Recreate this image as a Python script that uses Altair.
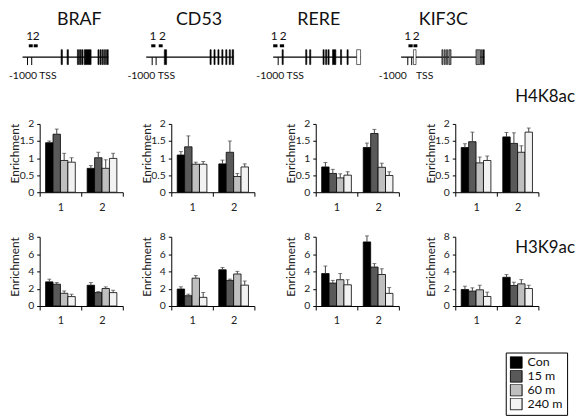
import altair as alt
import pandas as pd

FONT = "Lato"

# ---------------- data ----------------
series = ["Con", "15 m", "60 m", "240 m"]
series_colors = ["#000000", "#595959", "#bfbfbf", "#f2f2f2"]
groups = ["1", "2"]
genes = ["BRAF", "CD53", "RERE", "KIF3C"]

# values: group 1 (Con, 15 m, 60 m, 240 m) then group 2 (Con, 15 m, 60 m, 240 m)
h4_braf = [1.45, 1.70, 0.93, 0.88, 0.70, 1.01, 0.70, 0.99]
h4_braf_up = [1.50, 1.85, 1.14, 1.01, 0.78, 1.17, 0.95, 1.14]
h4_cd53 = [1.09, 1.33, 0.82, 0.82, 0.83, 1.17, 0.46, 0.74]
h4_cd53_up = [1.19, 1.65, 0.88, 0.90, 0.94, 1.50, 0.55, 0.83]
h4_rere = [0.74, 0.55, 0.42, 0.50, 1.31, 1.72, 0.73, 0.49]
h4_rere_up = [0.87, 0.67, 0.54, 0.60, 1.44, 1.84, 0.85, 0.60]
h4_kif3c = [1.31, 1.48, 0.86, 0.93, 1.62, 1.43, 1.17, 1.76]
h4_kif3c_up = [1.42, 1.76, 1.03, 1.06, 1.75, 1.74, 1.36, 1.88]

h3_braf = [2.79, 2.52, 1.47, 1.09, 2.40, 1.55, 2.02, 1.55]
h3_braf_up = [3.10, 2.71, 1.74, 1.36, 2.71, 1.67, 2.21, 1.82]
h3_cd53 = [1.96, 1.19, 3.22, 1.00, 4.19, 2.96, 3.70, 2.41]
h3_cd53_up = [2.22, 1.37, 3.52, 1.56, 4.44, 3.11, 4.00, 2.89]
h3_rere = [3.75, 2.65, 3.04, 2.45, 7.40, 4.50, 3.64, 1.46]
h3_rere_up = [4.62, 2.96, 3.75, 3.04, 8.10, 4.90, 4.30, 2.13]
h3_kif3c = [1.91, 1.72, 1.87, 1.10, 3.32, 2.37, 2.56, 2.02]
h3_kif3c_up = [2.29, 2.10, 2.40, 1.60, 3.63, 2.75, 3.05, 2.40]

h4_ticks = [0, 0.5, 1, 1.5, 2]
h3_ticks = [0, 2, 4, 6, 8]

# gene maps: positions in % of the drawn gene line
braf_exon_start = [45, 52, 64, 66.5, 69, 72, 88, 90.5, 93, 95.5, 98]
braf_exon_end = [46.5, 53.5, 65.5, 68, 70.5, 80, 89.3, 91.8, 94.3, 96.8, 100]
braf_exon_fill = ["black"] * 11
braf_marks = [5.8, 10.7]
braf_probe_start = [7.3, 13.0]
braf_probe_end = [11.9, 17.7]
braf_probe_label_x = [8.4, 15.9]
braf_text = ["-1000 TSS"]
braf_text_x = [-15.8]
braf_title_x = 66.2

cd53_exon_start = [20.7, 73, 77.5, 82, 86.5, 91, 95, 98.3]
cd53_exon_end = [23.3, 74.3, 78.8, 83.3, 87.8, 92.3, 96.3, 100]
cd53_exon_fill = ["black"] * 8
cd53_marks = [6.8, 11.3]
cd53_probe_start = [5.7, 14.3]
cd53_probe_end = [10.5, 18.8]
cd53_probe_label_x = [7.7, 18.5]
cd53_text = ["-1000 TSS"]
cd53_text_x = [-21.5]
cd53_title_x = 60.4

rere_exon_start = [10.2, 37.2, 41.7, 57, 60, 62.7, 67.9, 77, 84.5, 95.5]
rere_exon_end = [11.5, 38.5, 43, 58.3, 61.3, 64, 71.7, 78.3, 85.8, 100]
rere_exon_fill = ["black"] * 9 + ["white"]
rere_marks = [5.7]
rere_probe_start = [0.0, 7.6]
rere_probe_end = [4.9, 12.5]
rere_probe_label_x = [1.1, 11.3]
rere_text = ["-1000 TSS"]
rere_text_x = [-19.3]
rere_title_x = 52.1

kif3c_exon_start = [14.8, 49, 51.8, 54.6, 57.4, 90, 96.5, 98.6]
kif3c_exon_end = [17.9, 50.3, 53.1, 55.9, 60, 95.5, 97.7, 100]
kif3c_exon_fill = ["white", "#808080", "#808080", "#808080", "#808080", "#808080", "#808080", "black"]
kif3c_marks = [8.0, 12.7]
kif3c_probe_start = [8.8, 14.8]
kif3c_probe_end = [13.9, 19.5]
kif3c_probe_label_x = [8.0, 18.1]
kif3c_text = ["-1000", "TSS"]
kif3c_text_x = [-26.9, 17.9]
kif3c_title_x = 50.8

# ---------------- layout (pixels) ----------------
COL_W = [123, 136, 131, 84]
PANEL_W = 84
GENE_H = 45
ROW1_H = 69
ROW2_H = 70
LINE_RANGES = [[-17.3, 69.3], [-25.3, 63.0], [-43.0, 45.3], [-54.7, 29.3]]

# vertical levels used in the gene maps (1 unit = 7.5 px)
LV_EXON = (-1.0, 1.0)
LV_MARK = (0.0, -1.07)
LV_PROBE = (1.33, 1.73)
LV_PLABEL = 2.33
LV_TEXT = -3.0
LV_TITLE = 4.28


def gene_cell(name, width, xrange, ex0, ex1, exfill, marks, p0, p1, plx,
              texts, texts_x, title_x):
    xs = alt.Scale(domain=[0, 100], range=xrange)
    ys = alt.Scale(domain=[-3, 3])

    def X(f):
        return alt.X(f, scale=xs, axis=None)

    def Y(f):
        return alt.Y(f, scale=ys, axis=None)

    line = alt.Chart(pd.DataFrame({"a": [0], "b": [100], "y": [0]})).mark_rule(
        color="black", strokeWidth=1.3
    ).encode(x=X("a:Q"), x2="b:Q", y=Y("y:Q"))

    mk = alt.Chart(pd.DataFrame({"x": marks, "y0": LV_MARK[0], "y1": LV_MARK[1]})).mark_rule(
        color="black", strokeWidth=1
    ).encode(x=X("x:Q"), y=Y("y0:Q"), y2="y1:Q")

    ex = alt.Chart(pd.DataFrame({"a": ex0, "b": ex1, "y0": LV_EXON[0], "y1": LV_EXON[1],
                                 "f": exfill})).mark_rect(
        stroke="black", strokeWidth=0.6
    ).encode(x=X("a:Q"), x2="b:Q", y=Y("y0:Q"), y2="y1:Q", fill=alt.Fill("f:N", scale=None))

    pr = alt.Chart(pd.DataFrame({"a": p0, "b": p1, "y0": LV_PROBE[0], "y1": LV_PROBE[1]})).mark_rect(
        color="black"
    ).encode(x=X("a:Q"), x2="b:Q", y=Y("y0:Q"), y2="y1:Q")

    pl = alt.Chart(pd.DataFrame({"x": plx, "y": LV_PLABEL, "t": ["1", "2"]})).mark_text(
        align="center", baseline="alphabetic", fontSize=12, color="#111"
    ).encode(x=X("x:Q"), y=Y("y:Q"), text="t:N")

    tx = alt.Chart(pd.DataFrame({"x": texts_x, "y": LV_TEXT, "t": texts})).mark_text(
        align="left", baseline="alphabetic", fontSize=10.5, color="#111"
    ).encode(x=X("x:Q"), y=Y("y:Q"), text="t:N")

    ti = alt.Chart(pd.DataFrame({"x": [title_x], "y": [LV_TITLE], "t": [name]})).mark_text(
        align="center", baseline="alphabetic", fontSize=18, color="#111"
    ).encode(x=X("x:Q"), y=Y("y:Q"), text="t:N")

    return alt.layer(line, mk, ex, pr, pl, tx, ti).properties(width=width, height=GENE_H)


def bar_cell(vals, ups, ymax, ticks, height, label=None, label_y=0):
    df = pd.DataFrame({
        "group": [g for g in groups for _ in series],
        "series": series * len(groups),
        "value": vals,
        "upper": ups,
    })
    x = alt.X("group:N", scale=alt.Scale(domain=groups, paddingInner=0, paddingOuter=0),
              axis=alt.Axis(title=None, tickBand="extent", labelAngle=0, labelFontSize=11,
                            labelPadding=5, tickSize=4, domainColor="black", tickColor="black",
                            labelColor="#222", domainWidth=1))
    xo = alt.XOffset("series:N", scale=alt.Scale(domain=series, paddingInner=0, paddingOuter=0.8))
    ys = alt.Scale(domain=[0, ymax], nice=False, zero=True)
    yaxis = alt.Axis(values=ticks, format="~g", title="Enrichment", grid=False, tickSize=3,
                     labelFontSize=10.5, labelPadding=3, labelColor="#222", domainColor="black",
                     tickColor="black", titleFontSize=12, titleFontWeight="normal",
                     titleColor="#222", titleX=-18, titleY=height / 2 - 5, titleAngle=270,
                     titleBaseline="bottom", titleAlign="center")
    color = alt.Color("series:N", scale=alt.Scale(domain=series, range=series_colors),
                      legend=alt.Legend(title=None, orient="none", legendX=471, legendY=321,
                                        symbolType="square", symbolSize=144,
                                        symbolStrokeColor="black", symbolStrokeWidth=1,
                                        strokeColor="black", padding=4, labelFontSize=12.5,
                                        labelColor="#111", rowPadding=1, labelOffset=5,
                                        clipHeight=12, fillColor="white"))
    bars = alt.Chart(df).mark_bar(stroke="black", strokeWidth=0.8).encode(
        x=x, xOffset=xo, y=alt.Y("value:Q", scale=ys, axis=yaxis), color=color)
    err = alt.Chart(df).mark_rule(color="#444", strokeWidth=1).encode(
        x=x, xOffset=xo, y=alt.Y("value:Q", scale=ys, axis=yaxis), y2="upper:Q")
    cap = alt.Chart(df).mark_tick(color="#444", thickness=1, size=4).encode(
        x=x, xOffset=xo, y=alt.Y("upper:Q", scale=ys, axis=yaxis))
    layers = [bars, err, cap]
    if label is not None:
        lab = alt.Chart(pd.DataFrame({"t": [label]})).mark_text(
            align="right", baseline="alphabetic", fontSize=17, color="#111"
        ).encode(text="t:N", x=alt.value(121), y=alt.value(label_y))
        layers.append(lab)
    return alt.layer(*layers).properties(width=PANEL_W, height=height)


gene_specs = [
    ("BRAF", braf_exon_start, braf_exon_end, braf_exon_fill, braf_marks, braf_probe_start,
     braf_probe_end, braf_probe_label_x, braf_text, braf_text_x, braf_title_x),
    ("CD53", cd53_exon_start, cd53_exon_end, cd53_exon_fill, cd53_marks, cd53_probe_start,
     cd53_probe_end, cd53_probe_label_x, cd53_text, cd53_text_x, cd53_title_x),
    ("RERE", rere_exon_start, rere_exon_end, rere_exon_fill, rere_marks, rere_probe_start,
     rere_probe_end, rere_probe_label_x, rere_text, rere_text_x, rere_title_x),
    ("KIF3C", kif3c_exon_start, kif3c_exon_end, kif3c_exon_fill, kif3c_marks, kif3c_probe_start,
     kif3c_probe_end, kif3c_probe_label_x, kif3c_text, kif3c_text_x, kif3c_title_x),
]

cells = []
for i, spec in enumerate(gene_specs):
    name, ex0, ex1, exf, mk, p0, p1, plx, tx, txx, ttx = spec
    cells.append(gene_cell(name, COL_W[i], LINE_RANGES[i], ex0, ex1, exf, mk, p0, p1, plx,
                           tx, txx, ttx))

h4 = [(h4_braf, h4_braf_up), (h4_cd53, h4_cd53_up), (h4_rere, h4_rere_up), (h4_kif3c, h4_kif3c_up)]
h3 = [(h3_braf, h3_braf_up), (h3_cd53, h3_cd53_up), (h3_rere, h3_rere_up), (h3_kif3c, h3_kif3c_up)]

for i, (v, u) in enumerate(h4):
    cells.append(bar_cell(v, u, 2, h4_ticks, ROW1_H,
                          label="H4K8ac" if i == 3 else None, label_y=-22))
for i, (v, u) in enumerate(h3):
    cells.append(bar_cell(v, u, 8, h3_ticks, ROW2_H,
                          label="H3K9ac" if i == 3 else None, label_y=16))

chart = alt.concat(
    *cells, columns=4, spacing={"row": 45, "column": 10}, align="each", bounds="flush"
).resolve_scale(
    x="independent", y="independent"
).configure(
    font=FONT
).configure_view(
    stroke="transparent"
).properties(padding=0)

chart.save("out.html", embed_options={"renderer": "svg", "actions": False})
